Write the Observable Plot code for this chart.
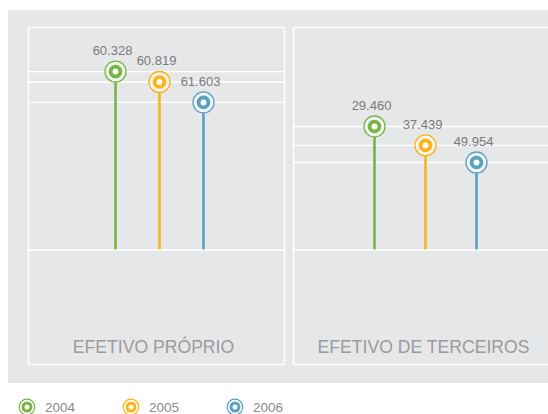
<!DOCTYPE html>
<html>
<head>
<meta charset="utf-8">
<script src="https://cdn.jsdelivr.net/npm/d3@7"></script>
<script src="https://cdn.jsdelivr.net/npm/@observablehq/plot@0.6"></script>
<style>
  html, body { margin: 0; padding: 0; background: #fff; }
  body { width: 548px; height: 414px; position: relative; overflow: hidden; font-family: "Liberation Sans", Arial, sans-serif; }
  #bg { position: absolute; left: 8px; top: 10px; width: 540px; height: 373px; background: #e6e7e9; }
  .panel { position: absolute; top: 25px; width: 260px; height: 341px; }
  .panel svg { max-width: none !important; }
  #legend { position: absolute; left: 18px; top: 398px; display: flex; }
  .item { width: 104px; display: flex; align-items: center; height: 18px; }
  .item svg { margin-right: 9px; }
  .item span { font-size: 13.5px; color: #8a8a8a; }
</style>
</head>
<body>
<div id="bg"></div>
<div id="p1" class="panel" style="left:26px"></div>
<div id="p2" class="panel" style="left:291px"></div>
<div id="legend"></div>
<script>
const categories = ["EFETIVO PRÓPRIO", "EFETIVO DE TERCEIROS"];
const years = ["2004", "2005", "2006"];
const colors = ["#79b546", "#fbb518", "#5aa2c3"];
const proprioValues = [60328, 60819, 61603];
const terceirosValues = [29460, 37439, 49954];
// stem heights as drawn in the picture (share of the panel area above the baseline)
const proprioHeights = [0.802, 0.755, 0.663];
const terceirosHeights = [0.555, 0.470, 0.393];

const locale = d3.formatLocale({decimal: ",", thousands: ".", grouping: [3], currency: ["R$", ""]});
const fmt = locale.format(",d");

function panel(cat, values, heights, xRange, labelDx) {
  const data = years.map((y, i) => ({year: y, value: values[i], h: heights[i]}));
  return Plot.plot({
    width: 260, height: 341, margin: 2,
    style: {background: "transparent", fontFamily: "'Liberation Sans', Arial, sans-serif"},
    x: {type: "point", domain: years, range: xRange, padding: 0, axis: null},
    y: {domain: [-0.515, 1], axis: null},
    color: {domain: years, range: colors},
    marks: [
      Plot.ruleY(data, {y: "h", stroke: "white", strokeWidth: 1.3}),
      Plot.ruleY([0], {stroke: "white", strokeWidth: 1.5}),
      Plot.frame({stroke: "white", strokeWidth: 1.5}),
      Plot.ruleX(data, {x: "year", y1: 0, y2: "h", stroke: "year", strokeWidth: 2.6}),
      Plot.dot(data, {x: "year", y: "h", r: 10.5, stroke: "year", strokeWidth: 1.3, fill: "#f3f4f4"}),
      Plot.dot(data, {x: "year", y: "h", r: 4.9, stroke: "year", strokeWidth: 3.9, fill: "white"}),
      Plot.text(data, {x: "year", y: "h", text: d => fmt(d.value), dy: -21, dx: -3, lineAnchor: "middle", fontSize: 13, fill: "#7a7a7a"}),
      Plot.text([cat], {frameAnchor: "bottom", dy: -17, dx: labelDx, lineAnchor: "middle", fontSize: 17.6, fill: "#9b9b9b"})
    ]
  });
}

document.getElementById("p1").append(panel(categories[0], proprioValues, proprioHeights, [89, 177], -3));
document.getElementById("p2").append(panel(categories[1], terceirosValues, terceirosHeights, [82, 185], 2));

const legend = document.getElementById("legend");
years.forEach((y, i) => {
  const item = document.createElement("div");
  item.className = "item";
  item.innerHTML = `<svg width="18" height="18"><circle cx="9" cy="9" r="7.8" fill="#fff" stroke="${colors[i]}" stroke-width="1.2"/><circle cx="9" cy="9" r="4" fill="#fff" stroke="${colors[i]}" stroke-width="3"/></svg><span>${y}</span>`;
  legend.append(item);
});
</script>
</body>
</html>
